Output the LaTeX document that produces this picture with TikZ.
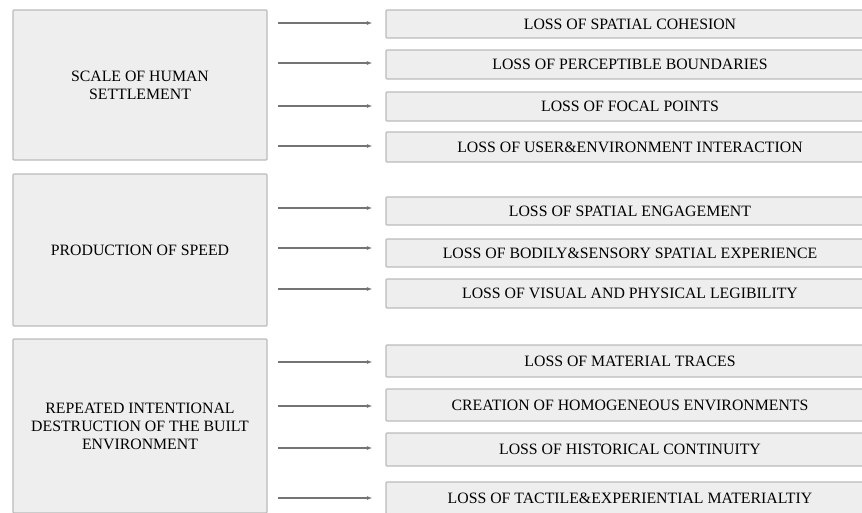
\documentclass[tikz,border=0pt]{standalone}
\usepackage{fontspec}
\setmainfont{Liberation Serif}
\usetikzlibrary{arrows.meta}
\definecolor{boxfill}{HTML}{EEEEEE}
\definecolor{boxline}{HTML}{BBBBBB}
\definecolor{arrline}{HTML}{747474}
\tikzset{
  causebox/.style={draw=boxline, fill=boxfill, line width=1.2pt, rounded corners=1pt, minimum width=254pt, align=center, text=black, font=\fontsize{15.8}{18}\selectfont, inner sep=0pt},
  lossbox/.style={draw=boxline, fill=boxfill, line width=1.2pt, rounded corners=1pt, minimum width=488pt, text=black, font=\fontsize{15.8}{18}\selectfont, inner sep=0pt},
  arr/.style={draw=arrline, line width=1.3pt, -{Latex[length=5.5pt,width=4pt]}, shorten >=13pt}
}

\begin{document}
\begin{tikzpicture}[x=1pt,y=-1pt]
\useasboundingbox (0,0) rectangle (862,512);
\node[causebox, minimum height=150pt] (c1) at (140,85) {SCALE OF HUMAN\\SETTLEMENT};
\node[causebox, minimum height=152pt] (c2) at (140,250) {PRODUCTION OF SPEED};
\node[causebox, minimum height=174pt] (c3) at (140,426) {REPEATED INTENTIONAL\\DESTRUCTION OF THE BUILT\\ENVIRONMENT};

\node[lossbox, minimum height=28pt] (r1) at (630,24) {LOSS OF SPATIAL COHESION};
\node[lossbox, minimum height=29pt] (r2) at (630,64.5) {LOSS OF PERCEPTIBLE BOUNDARIES};
\node[lossbox, minimum height=29pt] (r3) at (630,106.5) {LOSS OF FOCAL POINTS};
\node[lossbox, minimum height=30pt] (r4) at (630,147) {LOSS OF USER\&ENVIRONMENT INTERACTION};

\node[lossbox, minimum height=28pt] (r5) at (630,211) {LOSS OF SPATIAL ENGAGEMENT};
\node[lossbox, minimum height=28pt] (r6) at (630,253) {LOSS OF BODILY\&SENSORY SPATIAL EXPERIENCE};
\node[lossbox, minimum height=29pt] (r7) at (630,293.5) {LOSS OF VISUAL AND PHYSICAL LEGIBILITY};

\node[lossbox, minimum height=32pt] (r8) at (630,361) {LOSS OF MATERIAL TRACES};
\node[lossbox, minimum height=32pt] (r9) at (630,405) {CREATION OF HOMOGENEOUS ENVIRONMENTS};
\node[lossbox, minimum height=33pt] (r10) at (630,449.5) {LOSS OF HISTORICAL CONTINUITY};
\node[lossbox, minimum height=32pt] (r11) at (630,498) {LOSS OF TACTILE\&EXPERIENTIAL MATERIALTIY};

\coordinate (t1) at (278,23);
\coordinate (t2) at (278,63);
\coordinate (t3) at (278,106);
\coordinate (t4) at (278,146);
\coordinate (t5) at (278,208);
\coordinate (t6) at (278,248);
\coordinate (t7) at (278,289);
\coordinate (t8) at (278,362);
\coordinate (t9) at (278,406);
\coordinate (t10) at (278,448);
\coordinate (t11) at (278,498);

\draw[arr] (t1) -- (t1 -| r1.west);
\draw[arr] (t2) -- (t2 -| r2.west);
\draw[arr] (t3) -- (t3 -| r3.west);
\draw[arr] (t4) -- (t4 -| r4.west);
\draw[arr] (t5) -- (t5 -| r5.west);
\draw[arr] (t6) -- (t6 -| r6.west);
\draw[arr] (t7) -- (t7 -| r7.west);
\draw[arr] (t8) -- (t8 -| r8.west);
\draw[arr] (t9) -- (t9 -| r9.west);
\draw[arr] (t10) -- (t10 -| r10.west);
\draw[arr] (t11) -- (t11 -| r11.west);
\end{tikzpicture}
\end{document}
